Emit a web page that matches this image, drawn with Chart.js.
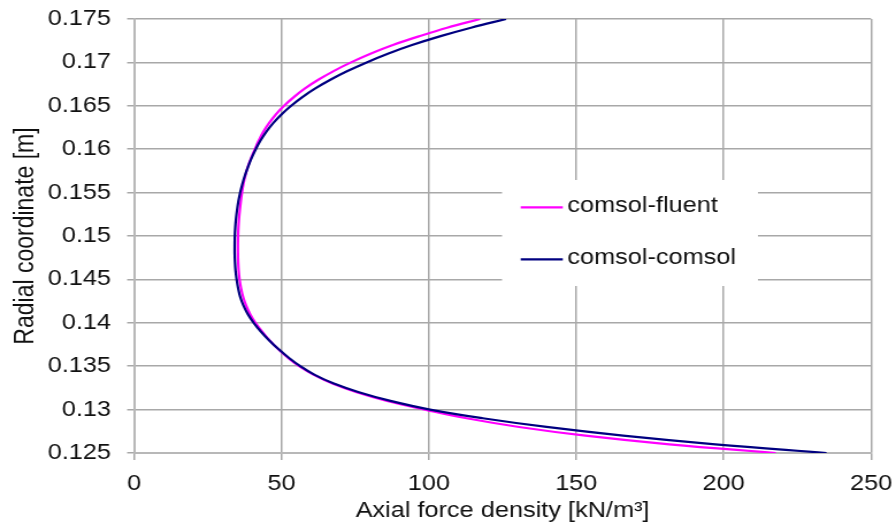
<!DOCTYPE html>
<html>
<head>
<meta charset="utf-8">
<title>Axial force density</title>
<script src="https://cdn.jsdelivr.net/npm/chart.js@4.4.1/dist/chart.umd.min.js"></script>
<style>
  html, body { margin: 0; padding: 0; background: #fff; overflow: hidden; }
  /* the chart is laid out narrower and widened, like the exported figure */
  #wrap { width: 779px; height: 532px; transform: scaleX(1.1502); transform-origin: 0 0; }
</style>
</head>
<body>
<div id="wrap"><canvas id="forceChart"></canvas></div>
<script>
// radial coordinate [m]
const radius = [0.125, 0.126, 0.127, 0.128, 0.129, 0.13, 0.131, 0.132, 0.133, 0.134,
  0.135, 0.136, 0.137, 0.138, 0.139, 0.14, 0.141, 0.142, 0.143, 0.144,
  0.145, 0.146, 0.147, 0.148, 0.149, 0.15, 0.151, 0.152, 0.153, 0.154,
  0.155, 0.156, 0.157, 0.158, 0.159, 0.16, 0.161, 0.162, 0.163, 0.164,
  0.165, 0.166, 0.167, 0.168, 0.169, 0.17, 0.171, 0.172, 0.173, 0.174, 0.175];

// axial force density [kN/m3]
const comsolFluent = [217.7, 181.6, 153.1, 130.6, 112.8, 98.7, 85.8, 75.5, 67.3, 61.0,
  56.0, 52.1, 48.8, 45.9, 43.4, 41.2, 39.4, 38.0, 37.0, 36.3,
  35.8, 35.5, 35.33, 35.26, 35.25, 35.3, 35.42, 35.62, 35.9, 36.23,
  36.63, 37.13, 37.78, 38.63, 39.73, 41.0, 42.3, 43.85, 45.8, 48.1,
  50.9, 54.2, 58.0, 62.5, 67.7, 73.6, 80.2, 87.8, 96.6, 106.2, 117.4];
const comsolComsol = [234.9, 197.2, 165.9, 139.9, 118.3, 100.4, 87.0, 76.3, 67.8, 61.3,
  56.4, 52.4, 48.9, 45.8, 43.0, 40.6, 38.6, 37.1, 36.0, 35.3,
  34.8, 34.45, 34.25, 34.15, 34.15, 34.2, 34.35, 34.6, 34.95, 35.4,
  36.0, 36.75, 37.65, 38.7, 39.9, 41.3, 42.9, 44.85, 47.2, 50.0,
  53.3, 57.1, 61.5, 66.6, 72.4, 78.9, 86.1, 94.3, 103.7, 114.3, 126.2];

const seriesNames = ['comsol-fluent', 'comsol-comsol'];
const xTicks = [0, 50, 100, 150, 200, 250];
const yTicks = [0.125, 0.13, 0.135, 0.14, 0.145, 0.15, 0.155, 0.16, 0.165, 0.17, 0.175];

function toPoints(force) {
  let pts = new Array();
  for (let i = 0; i < radius.length; i++) {
    pts.push({x: force[i], y: radius[i]});
  }
  return pts;
}

const font = {family: "'Liberation Sans', Arial, sans-serif", size: 22};
const gridColor = '#a8a8a8';

// axis padding for overhanging labels is not wanted, the layout padding covers it
function noLabelPadding(scale) {
  scale.paddingLeft = 0;
  scale.paddingRight = 0;
  scale.paddingTop = 0;
  scale.paddingBottom = 0;
}

// legend drawn as a white box inside the plot
const boxLegend = {
  id: 'boxLegend',
  beforeDatasetsDraw(chart) {
    const ctx = chart.ctx;
    const x0 = 436.5, y0 = 180, w = 222.5, h = 106;
    ctx.save();
    ctx.fillStyle = '#fff';
    ctx.fillRect(x0, y0, w, h);
    ctx.font = "22px 'Liberation Sans', Arial, sans-serif";
    ctx.textBaseline = 'middle';
    ctx.textAlign = 'left';
    const rows = [207.3, 259.3];
    chart.data.datasets.forEach(function(ds, i) {
      ctx.strokeStyle = ds.borderColor;
      ctx.lineWidth = 2.2;
      ctx.beginPath();
      ctx.moveTo(452.7, rows[i]);
      ctx.lineTo(489.3, rows[i]);
      ctx.stroke();
      ctx.fillStyle = '#111';
      ctx.fillText(ds.label, 493.3, rows[i] - 1.5);
    });
    ctx.restore();
  }
};

let forceChart = new Chart(document.getElementById('forceChart'), {
  type: 'scatter',
  data: {
    datasets: [{
      label: seriesNames[0],
      data: toPoints(comsolFluent),
      borderColor: '#ff00ff',
      backgroundColor: '#ff00ff',
      order: 1
    }, {
      label: seriesNames[1],
      data: toPoints(comsolComsol),
      borderColor: '#000080',
      backgroundColor: '#000080',
      order: 0
    }]
  },
  options: {
    responsive: true,
    maintainAspectRatio: false,
    animation: false,
    showLine: true,
    layout: {padding: {left: 0, right: 21.7, top: 19, bottom: 0}},
    elements: {
      point: {radius: 0, hoverRadius: 0},
      line: {borderWidth: 2.2, tension: 0.4, fill: false}
    },
    plugins: {legend: {display: false}, tooltip: {enabled: false}},
    scales: {
      x: {
        type: 'linear',
        min: 0, max: 250,
        afterBuildTicks: function(scale) { scale.ticks = xTicks.map(v => ({value: v})); },
        afterFit: function(scale) { scale.height = 79; noLabelPadding(scale); },
        grid: {color: gridColor, lineWidth: 1.5, tickLength: 7, drawTicks: true},
        border: {color: '#b8b8b8', width: 2},
        ticks: {font: font, color: '#111', padding: 10.5, maxRotation: 0, callback: v => String(v)},
        title: {display: true, text: 'Axial force density [kN/m³]', font: font, color: '#111',
          padding: {top: 0, bottom: 8.3}}
      },
      y: {
        type: 'linear',
        min: 0.125, max: 0.175,
        afterBuildTicks: function(scale) { scale.ticks = yTicks.map(v => ({value: v})); },
        afterFit: function(scale) { scale.width = 116.5; noLabelPadding(scale); },
        grid: {color: gridColor, lineWidth: 1.5, tickLength: 6, drawTicks: true},
        border: {color: '#b8b8b8', width: 2},
        ticks: {font: font, color: '#111', padding: 14, callback: v => String(v)},
        title: {display: true, text: 'Radial coordinate [m]', font: {family: font.family, size: 23},
          color: '#111', padding: {top: 8.5, bottom: 0}}
      }
    }
  },
  plugins: [boxLegend]
});
</script>
</body>
</html>
